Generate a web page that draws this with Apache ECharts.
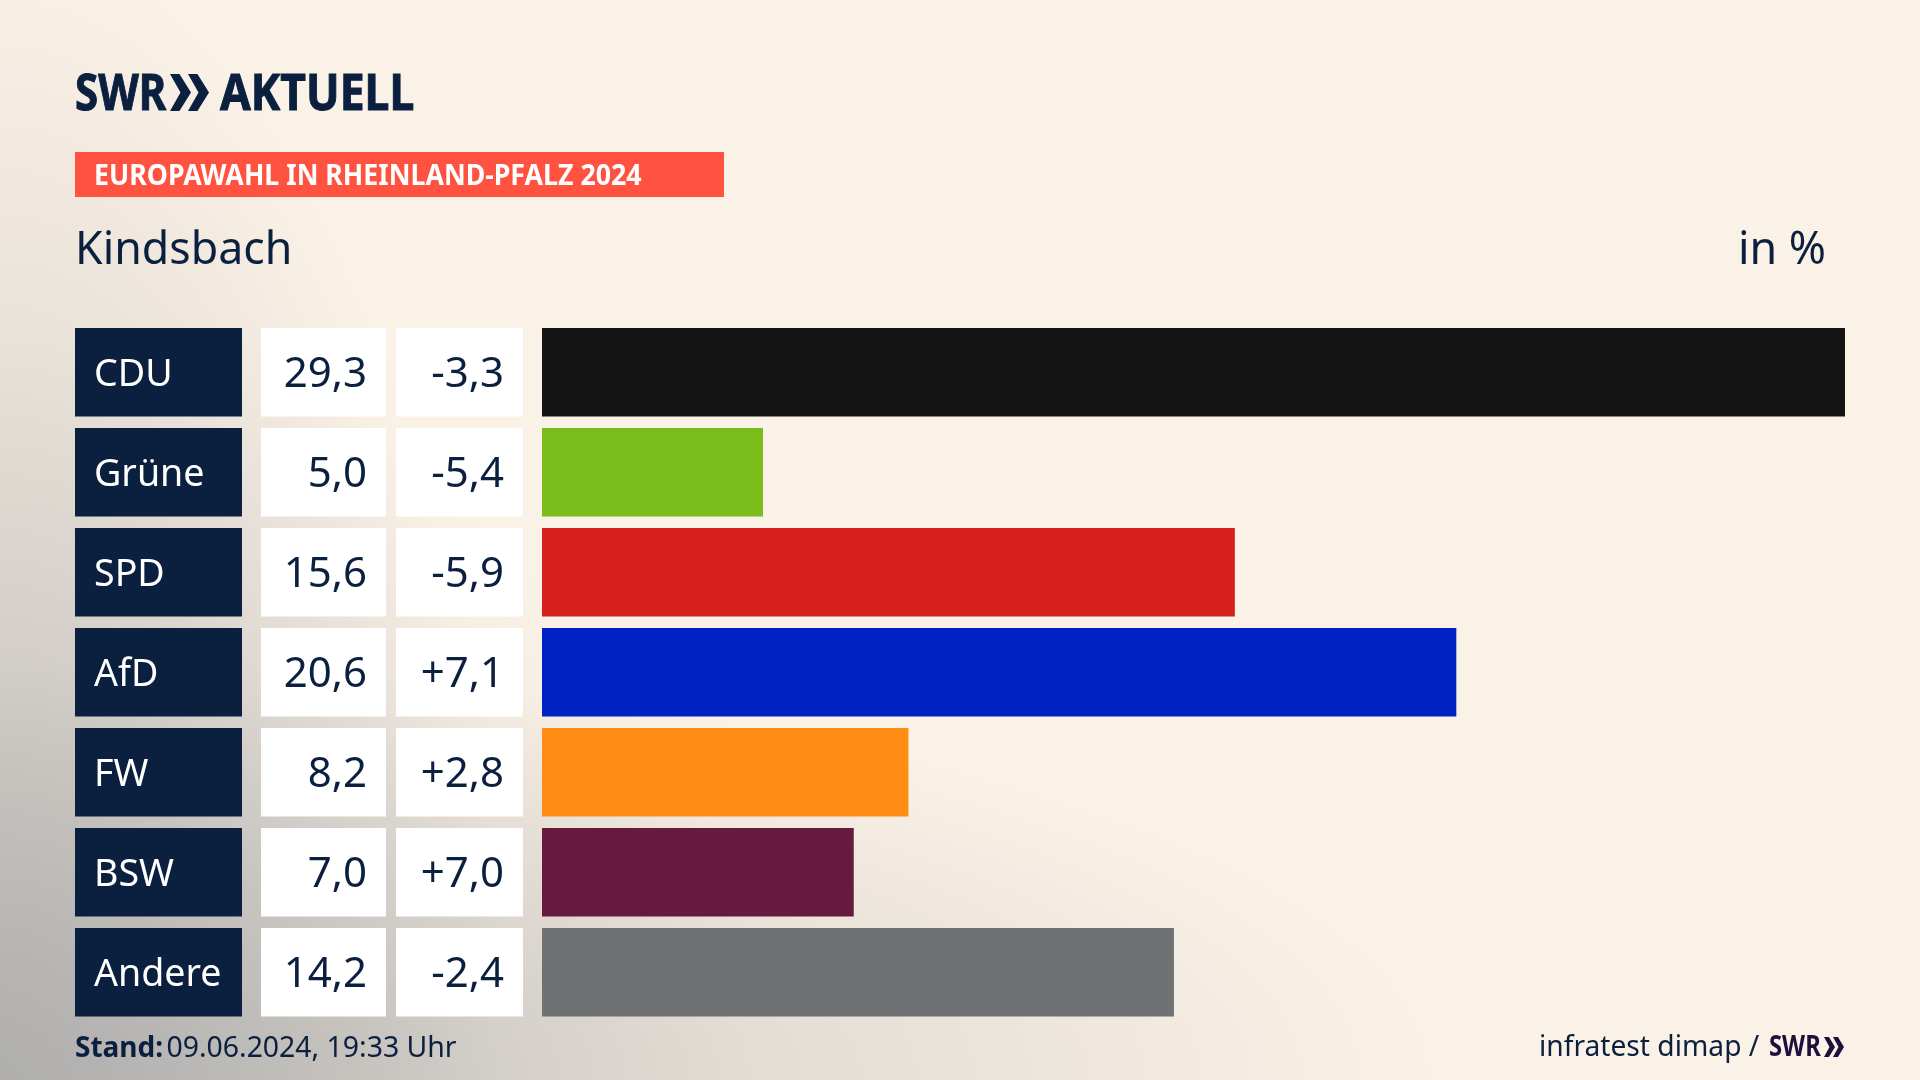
<!DOCTYPE html>
<html><head><meta charset="utf-8">
<style>html,body{margin:0;padding:0;width:1920px;height:1080px;overflow:hidden}#c{width:1920px;height:1080px}</style>
<script src="https://cdn.jsdelivr.net/npm/echarts@6/dist/echarts.min.js"></script>
</head><body><div id="c"></div>
<script>
const parties = ['CDU','Grüne','SPD','AfD','FW','BSW','Andere'];
const shares = [29.3,4.97,15.58,20.56,8.24,7.01,14.21];
const changes = [-3.3,-5.4,-5.9,7.1,2.8,7.0,-2.4];
const barColors = ['#141414','#7ABD1B','#D71F1D','#0021C4','#FF8C14','#661A3D','#707173'];
const NAVY='#0B1F3F', FONT='"Noto Sans"';
const fmtShare = v => v.toFixed(1).replace('.',',');
const fmtChange = v => (v>0?'+':'')+v.toFixed(1).replace('.',',');
const TOP=322.2, H=700, BW=88.4;
const cols=[
 {left:75,width:167,color:NAVY,text:i=>parties[i],tc:'#fff',pos:'insideLeft',dist:19,fs:37.6},
 {left:261,width:125,color:'#fff',text:i=>fmtShare(shares[i]),tc:NAVY,pos:'insideRight',dist:19,fs:42},
 {left:396,width:127,color:'#fff',text:i=>fmtChange(changes[i]),tc:NAVY,pos:'insideRight',dist:19,fs:42}
];
const grids=[],xs=[],ys=[],series=[];
cols.forEach((c,k)=>{
 grids.push({left:c.left,width:c.width,top:TOP,height:H});
 xs.push({type:'value',gridIndex:k,min:0,max:1,show:false});
 ys.push({type:'category',gridIndex:k,data:parties,inverse:true,show:false});
 series.push({type:'bar',xAxisIndex:k,yAxisIndex:k,silent:true,animation:false,barWidth:BW,
  data:parties.map(()=>1),itemStyle:{color:c.color},
  label:{show:true,position:c.pos,distance:c.dist,offset:[0,3],color:c.tc,fontFamily:FONT,fontSize:c.fs,formatter:p=>c.text(p.dataIndex)}});
});
grids.push({left:542,width:1303,top:TOP,height:H});
xs.push({type:'value',gridIndex:3,min:0,max:29.3,show:false});
ys.push({type:'category',gridIndex:3,data:parties,inverse:true,show:false});
series.push({type:'bar',xAxisIndex:3,yAxisIndex:3,silent:true,animation:false,barWidth:BW,
 data:shares.map((v,i)=>({value:v,itemStyle:{color:barColors[i]}}))});
const txt=(x,y,s,size,o={})=>({type:'text',x,y,scaleX:o.sx||1,style:{text:s,fontFamily:FONT,fontSize:size,fontWeight:o.w||'normal',fill:o.c||NAVY,stroke:o.st?(o.c||NAVY):null,lineWidth:o.st||0,textAlign:o.a||'left',textVerticalAlign:'middle'}});
const chev=(x,y,w,h,c)=>({type:'polygon',shape:{points:[[x,y],[x+w*0.45,y],[x+w,y+h/2],[x+w*0.45,y+h],[x,y+h],[x+w*0.5,y+h/2]]},style:{fill:c}});
const glow=(rx,ry,a,z)=>({type:'rect',z,x:0,y:1080,scaleX:rx,scaleY:ry,silent:true,shape:{x:0,y:-1,width:1,height:1},
 style:{fill:new echarts.graphic.RadialGradient(0,1,1,[{offset:0,color:`rgba(168,168,168,${a})`},{offset:1,color:'rgba(168,168,168,0)'}],false)}});
const chart=echarts.init(document.getElementById('c'),null,{renderer:'canvas'});
chart.setOption({
 animation:false,
 backgroundColor:'#FBF2E7',
 grid:grids,xAxis:xs,yAxis:ys,series,
 graphic:[
  glow(1450,420,.6,-10),glow(500,1150,.6,-10),glow(750,750,.4,-10),
  txt(75,96,'SWR',50,{w:'bold',sx:.84,st:1}),
  chev(170,74,21,37,NAVY),chev(188,74,21,37,NAVY),
  txt(220,96,'AKTUELL',50,{w:'bold',sx:.89,st:1}),
  {type:'rect',shape:{x:75,y:152,width:649,height:45},style:{fill:'#FF5240'}},
  txt(94,177,'EUROPAWAHL IN RHEINLAND-PFALZ 2024',28,{w:'bold',c:'#fff',sx:.955}),
  txt(75,251.5,'Kindsbach',44.7),
  txt(1826,251.5,'in %',44.8,{a:'right'}),
  {type:'text',x:75,y:1049,style:{rich:{b:{fontFamily:FONT,fontSize:28,fontWeight:'bold',fill:NAVY},n:{fontFamily:FONT,fontSize:28.4,fill:NAVY}},text:'{b|Stand:} {n|09.06.2024, 19:33 Uhr}',textVerticalAlign:'middle'}},
  txt(1539,1048,'infratest dimap /',28.2),
  txt(1769,1048,'SWR',28,{w:'bold',c:'#1E0F3C',sx:.85}),
  chev(1824,1037,11,20,'#1E0F3C'),chev(1833,1037,11,20,'#1E0F3C')
 ]
});
</script></body></html>
